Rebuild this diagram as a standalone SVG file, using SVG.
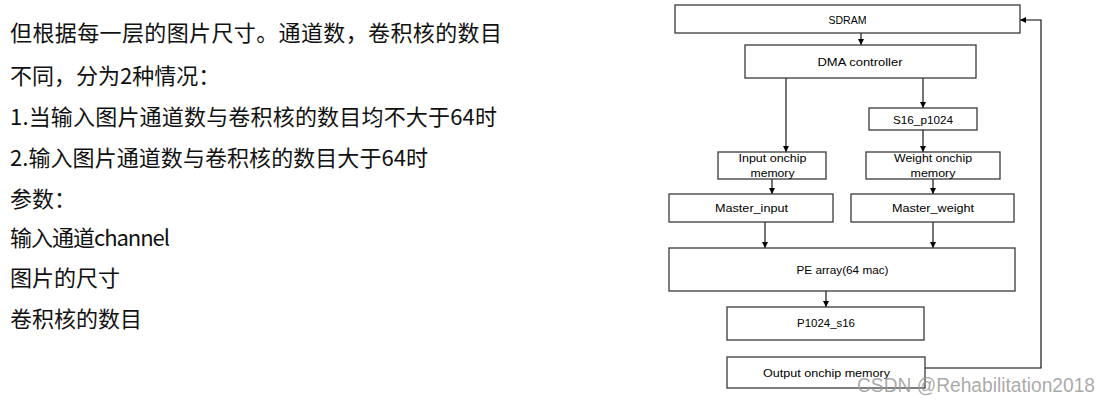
<svg xmlns="http://www.w3.org/2000/svg" width="1112" height="402" viewBox="0 0 1112 402">
<style>
.cn{font-family:"Noto Sans CJK SC","Noto Sans",sans-serif;font-size:22px;fill:#111}
.box{fill:#fff;stroke:#3a3a3a;stroke-width:1.3}
.lbl{font-family:"Liberation Sans",Arial,sans-serif;font-size:11.6px;fill:#000;text-anchor:middle}
.con{fill:none;stroke:#000;stroke-width:1.1}
.wm{font-family:"Liberation Sans",Arial,sans-serif;font-size:20px;fill:#9a9a9a;fill-opacity:0.85}
</style>
<defs>
<marker id="ah" markerUnits="userSpaceOnUse" markerWidth="7" markerHeight="7" refX="6" refY="3" orient="auto">
<path d="M0,0 L6,3 L0,6 z" fill="#000"/>
</marker>
</defs>
<rect width="1112" height="402" fill="#fff"/>
<g id="text-left">
<text class="cn" x="10" y="41" textLength="492" lengthAdjust="spacing">但根据每一层的图片尺寸。通道数，卷积核的数目</text>
<text class="cn" x="10" y="84">不同，分为2种情况：</text>
<text class="cn" x="10" y="125" textLength="487" lengthAdjust="spacing">1.当输入图片通道数与卷积核的数目均不大于64时</text>
<text class="cn" x="10" y="166" textLength="418" lengthAdjust="spacing">2.输入图片通道数与卷积核的数目大于64时</text>
<text class="cn" x="10" y="207">参数：</text>
<text class="cn" x="10" y="246" textLength="160" lengthAdjust="spacing">输入通道channel</text>
<text class="cn" x="10" y="286">图片的尺寸</text>
<text class="cn" x="10" y="327">卷积核的数目</text>
</g>
<g id="connectors">
<line class="con" x1="861" y1="33" x2="861" y2="45" marker-end="url(#ah)"/>
<line class="con" x1="786" y1="78" x2="786" y2="152" marker-end="url(#ah)"/>
<line class="con" x1="923" y1="78" x2="923" y2="108" marker-end="url(#ah)"/>
<line class="con" x1="923" y1="130" x2="923" y2="152" marker-end="url(#ah)"/>
<line class="con" x1="772" y1="179" x2="772" y2="194" marker-end="url(#ah)"/>
<line class="con" x1="933" y1="179" x2="933" y2="194" marker-end="url(#ah)"/>
<line class="con" x1="765" y1="222" x2="765" y2="248" marker-end="url(#ah)"/>
<line class="con" x1="933" y1="222" x2="933" y2="248" marker-end="url(#ah)"/>
<line class="con" x1="826" y1="291" x2="826" y2="307" marker-end="url(#ah)"/>
<polyline class="con" points="925,368 1041,368 1041,20 1020,20" marker-end="url(#ah)"/>
</g>
<g id="sdram"><rect class="box" x="675" y="5" width="345" height="28"/><text class="lbl" x="847.5" y="24" textLength="38" lengthAdjust="spacingAndGlyphs">SDRAM</text></g>
<g id="dma"><rect class="box" x="745" y="45" width="231" height="33"/><text class="lbl" x="860" y="66" textLength="85" lengthAdjust="spacingAndGlyphs">DMA controller</text></g>
<g id="s16"><rect class="box" x="869" y="108" width="108" height="22"/><text class="lbl" x="923" y="124" textLength="60" lengthAdjust="spacingAndGlyphs">S16_p1024</text></g>
<g id="input-mem"><rect class="box" x="718" y="152" width="108" height="27"/><text class="lbl" x="772.5" y="162" textLength="68" lengthAdjust="spacingAndGlyphs">Input onchip</text><text class="lbl" x="772.5" y="177" textLength="44" lengthAdjust="spacingAndGlyphs">memory</text></g>
<g id="weight-mem"><rect class="box" x="866" y="152" width="134" height="27"/><text class="lbl" x="933" y="162" textLength="78" lengthAdjust="spacingAndGlyphs">Weight onchip</text><text class="lbl" x="933" y="177" textLength="45" lengthAdjust="spacingAndGlyphs">memory</text></g>
<g id="master-input"><rect class="box" x="669" y="194" width="164" height="28"/><text class="lbl" x="751.5" y="212" textLength="73" lengthAdjust="spacingAndGlyphs">Master_input</text></g>
<g id="master-weight"><rect class="box" x="851" y="194" width="163" height="28"/><text class="lbl" x="933" y="212" textLength="82" lengthAdjust="spacingAndGlyphs">Master_weight</text></g>
<g id="pe-array"><rect class="box" x="669" y="248" width="346" height="43"/><text class="lbl" x="842.5" y="274" textLength="92" lengthAdjust="spacingAndGlyphs">PE array(64 mac)</text></g>
<g id="p1024"><rect class="box" x="727" y="307" width="197" height="33"/><text class="lbl" x="826" y="327" textLength="58" lengthAdjust="spacingAndGlyphs">P1024_s16</text></g>
<g id="output-mem"><rect class="box" x="727" y="357" width="198" height="31"/><text class="lbl" x="826.5" y="377" textLength="127" lengthAdjust="spacingAndGlyphs">Output onchip memory</text></g>
<text class="wm" x="857" y="392" textLength="238" lengthAdjust="spacingAndGlyphs">CSDN @Rehabilitation2018</text>
</svg>
